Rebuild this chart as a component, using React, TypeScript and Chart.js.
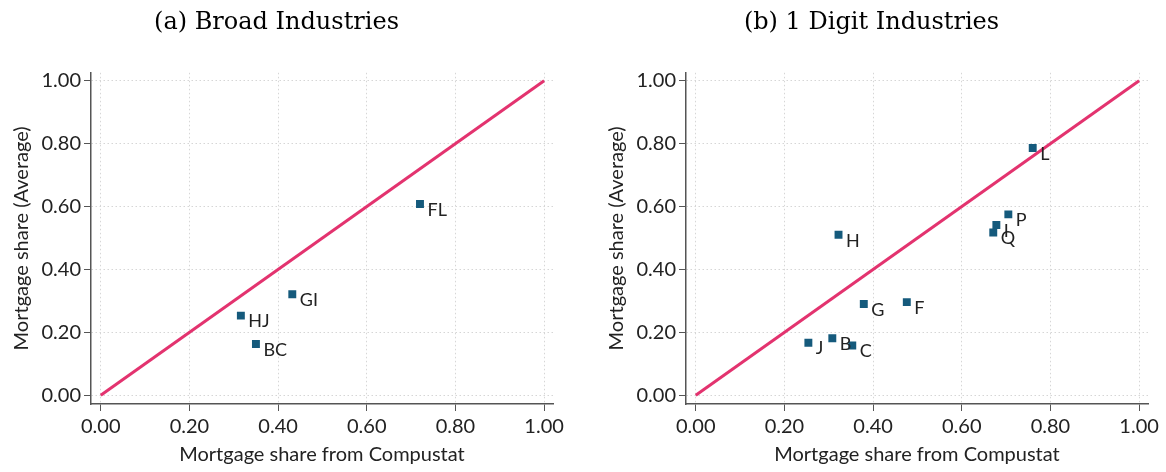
import { useEffect, useRef } from 'react';
import { Chart, registerables } from 'chart.js';
Chart.register(...registerables);

const tickValues = [0, 0.2, 0.4, 0.6, 0.8, 1.0];
const diagonal = [0, 1];

const broadLabels = ['FL', 'GI', 'HJ', 'BC'];
const broadX = [0.72, 0.432, 0.316, 0.35];
const broadY = [0.608, 0.321, 0.253, 0.163];

const digitLabels = ['L', 'P', 'I', 'Q', 'H', 'G', 'F', 'J', 'B', 'C'];
const digitX = [0.76, 0.705, 0.678, 0.671, 0.322, 0.379, 0.476, 0.254, 0.308, 0.353];
const digitY = [0.786, 0.575, 0.541, 0.517, 0.51, 0.29, 0.296, 0.167, 0.181, 0.158];

const titles = ['(a) Broad Industries', '(b) 1 Digit Industries'];
const xTitle = 'Mortgage share from Compustat';
const yTitle = 'Mortgage share (Average)';

const FONT = 'Lato';
const TEXT = '#222222';
const MARKER = '#155a7c';
const LINE = '#e3336f';

const labelPlugin = {
  id: 'pointLabels',
  afterDatasetsDraw(chart: any) {
    const ctx = chart.ctx;
    const ds = chart.data.datasets[1];
    const meta = chart.getDatasetMeta(1);
    ctx.save();
    ctx.font = `18px ${FONT}`;
    ctx.fillStyle = TEXT;
    ctx.textAlign = 'left';
    ctx.textBaseline = 'middle';
    meta.data.forEach((pt: any, i: number) => {
      ctx.fillText(ds.labels[i], pt.x + 7.5, pt.y + 6);
    });
    ctx.restore();
  },
};

function ScatterPanel({ title, labels, xs, ys }: { title: string; labels: string[]; xs: number[]; ys: number[] }) {
  const ref = useRef<HTMLCanvasElement>(null);
  useEffect(() => {
    if (!ref.current) return;
    const axisCommon = (isX: boolean) => ({
      type: 'linear',
      min: isX ? -0.022 : -0.028,
      max: isX ? 1.02 : 1.025,
      afterBuildTicks: (scale: any) => {
        scale.ticks = tickValues.map((v) => ({ value: v }));
      },
      afterFit: (scale: any) => {
        if (isX) scale.height = 68;
        else scale.width = 91;
      },
      ticks: {
        includeBounds: false,
        autoSkip: false,
        maxRotation: 0,
        padding: isX ? 4 : 3,
        color: TEXT,
        font: { family: FONT, size: 20 },
        callback: (v: any) => Number(v).toFixed(2),
      },
      grid: {
        color: '#d6d6d6',
        lineWidth: 1,
        tickColor: '#555555',
        tickLength: 7,
        tickWidth: 1,
        tickBorderDash: [],
      },
      border: { display: true, color: '#555555', width: 1.5, dash: [1.5, 2.5] },
      title: {
        display: true,
        text: isX ? xTitle : yTitle,
        color: TEXT,
        font: { family: FONT, size: 20 },
        padding: isX ? { top: 0, bottom: 5 } : { top: 10, bottom: 0 },
      },
    });
    const chart = new Chart(ref.current, {
      type: 'scatter',
      data: {
        datasets: [
          {
            type: 'line',
            data: diagonal.map((v) => ({ x: v, y: v })),
            borderColor: LINE,
            borderWidth: 3,
            pointRadius: 0,
            fill: false,
          } as any,
          {
            type: 'scatter',
            data: xs.map((x, i) => ({ x, y: ys[i] })),
            labels,
            pointStyle: 'rect',
            pointRadius: 5.6,
            backgroundColor: MARKER,
            borderColor: MARKER,
            borderWidth: 0,
          } as any,
        ],
      },
      options: {
        animation: false,
        responsive: false,
        maintainAspectRatio: false,
        layout: { padding: { left: 0, right: 18, top: 0, bottom: 0 } },
        plugins: {
          legend: { display: false },
          tooltip: { enabled: false },
          title: {
            display: true,
            text: title,
            color: '#000000',
            font: { family: 'DejaVu Serif', size: 24, weight: 'normal' },
            padding: { top: 8, bottom: 36 },
          },
        },
        scales: {
          x: axisCommon(true) as any,
          y: axisCommon(false) as any,
        },
      },
      plugins: [labelPlugin],
    });
    return () => chart.destroy();
  }, []);
  return <canvas ref={ref} width={571} height={472} style={{ width: 571, height: 472, display: 'block' }} />;
}

export default function App() {
  return (
    <div style={{ position: 'fixed', left: 0, top: 0, width: 1166, height: 472, background: '#ffffff' }}>
      <div style={{ position: 'absolute', left: 0, top: 0 }}>
        <ScatterPanel title={titles[0]} labels={broadLabels} xs={broadX} ys={broadY} />
      </div>
      <div style={{ position: 'absolute', left: 595, top: 0 }}>
        <ScatterPanel title={titles[1]} labels={digitLabels} xs={digitX} ys={digitY} />
      </div>
    </div>
  );
}
